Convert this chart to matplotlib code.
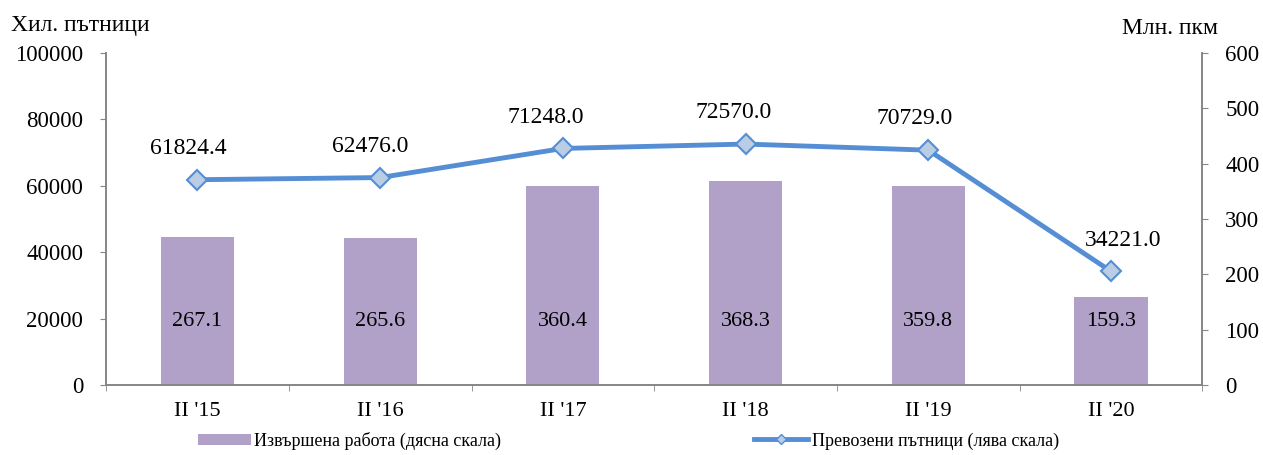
import matplotlib
matplotlib.use('Agg')
import matplotlib.pyplot as plt
from matplotlib.patches import Patch
from matplotlib.lines import Line2D
import numpy as np

# data
periods = ["II '15", "II '16", "II '17", "II '18", "II '19", "II '20"]
work_mln_pkm = [267.1, 265.6, 360.4, 368.3, 359.8, 159.3]
passengers_k = [61824.4, 62476.0, 71248.0, 72570.0, 70729.0, 34221.0]

# label nudges (points), as placed in the original
LABEL_DX = [-6.5, -7, -12, -8.5, -9.5, 8.5]

BAR_COLOR = '#B1A0C7'
LINE_COLOR = '#558ED5'
MARKER_FACE = '#B9CDE5'
SPINE_COLOR = '#868686'

plt.rcParams['font.family'] = ['Liberation Serif', 'DejaVu Serif']

fig = plt.figure(figsize=(12.63, 4.55), dpi=100)
ax = fig.add_axes([0.084, 0.154, 0.868, 0.7295])
ax2 = ax.twinx()

x = np.arange(len(periods))

# bars on the right scale
ax2.bar(x, work_mln_pkm, width=0.4, color=BAR_COLOR, zorder=1)
for xi, v in zip(x, work_mln_pkm):
    ax2.text(xi, 115, f'{v:.1f}', ha='center', va='center', fontsize=16)
ax2.set_ylim(0, 600)
ax2.set_yticks(np.arange(0, 601, 100))

# line on the left scale, drawn above the bars
ax.set_zorder(ax2.get_zorder() + 1)
ax.patch.set_visible(False)
ax.plot(x, passengers_k, color=LINE_COLOR, lw=3.5, marker='D', markersize=10,
        markerfacecolor=MARKER_FACE, markeredgecolor=LINE_COLOR, markeredgewidth=1.5,
        solid_capstyle='round', zorder=3)
for xi, v, dx in zip(x, passengers_k, LABEL_DX):
    ax.annotate(f'{v:.1f}', (xi, v), xytext=(dx, 22.5), textcoords='offset points',
                ha='center', va='center', fontsize=17)
ax.set_ylim(0, 100000)
ax.set_yticks(np.arange(0, 100001, 20000))
ax.set_xlim(-0.5, 5.5)
ax.set_xticks(x)
ax.set_xticklabels(periods)
ax.set_xticks(np.arange(-0.5, 6, 1), minor=True)
ax.tick_params(axis='x', which='major', length=0, pad=12, labelsize=16)
ax.tick_params(axis='x', which='minor', length=4.5, color=SPINE_COLOR, direction='out')
ax.tick_params(axis='y', length=4.5, color=SPINE_COLOR, labelsize=16.5, pad=12)
ax2.tick_params(axis='y', length=4.5, color=SPINE_COLOR, labelsize=16.5, pad=12)

for a in (ax, ax2):
    a.spines['top'].set_visible(False)
    for s in ('left', 'right', 'bottom'):
        a.spines[s].set_color(SPINE_COLOR)
        a.spines[s].set_linewidth(1.2)

fig.text(0.009, 0.945, 'Хил. пътници', fontsize=17, ha='left', va='center')
fig.text(0.964, 0.938, 'Млн. пкм', fontsize=17, ha='right', va='center')

# legend
h1 = Patch(facecolor=BAR_COLOR, edgecolor='none')
h2 = Line2D([], [], color=LINE_COLOR, lw=3.5, marker='D', markersize=5,
            markerfacecolor=MARKER_FACE, markeredgecolor=LINE_COLOR)
fig.legend([h1], ['Извършена работа (дясна скала)'], loc='center left',
           bbox_to_anchor=(0.150, 0.031), frameon=False, fontsize=13, borderpad=0,
           handlelength=2.9, handleheight=0.6, handletextpad=0.2)
fig.legend([h2], ['Превозени пътници (лява скала)'], loc='center left',
           bbox_to_anchor=(0.590, 0.031), frameon=False, fontsize=13, borderpad=0,
           handlelength=3.0, handletextpad=0.2)

fig.savefig('out.png', dpi=100)
